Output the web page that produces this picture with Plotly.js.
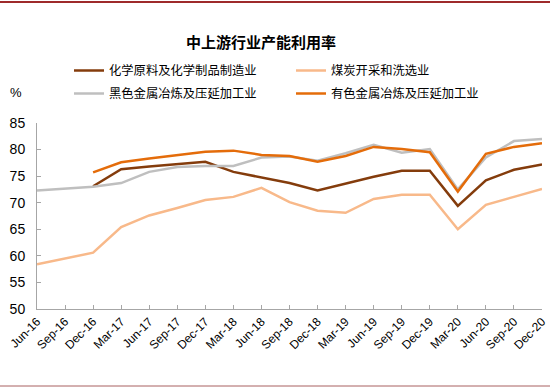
<!DOCTYPE html>
<html>
<head>
<meta charset="utf-8">
<script src="https://cdn.plot.ly/plotly-3.0.1.min.js"></script>
<style>html,body{margin:0;padding:0;background:#fff;}#chart{width:550px;height:387px;}</style>
</head>
<body>
<div id="chart"></div>
<script>
const categories = ["Jun-16","Sep-16","Dec-16","Mar-17","Jun-17","Sep-17","Dec-17","Mar-18","Jun-18","Sep-18","Dec-18","Mar-19","Jun-19","Sep-19","Dec-19","Mar-20","Jun-20","Sep-20","Dec-20"];
const chemical = [null,null,73.1,76.3,76.8,77.2,77.7,75.8,74.7,73.7,72.3,73.6,74.9,76.0,76.0,69.4,74.2,76.2,77.2];
const coal = [58.4,null,60.6,65.4,67.6,69.0,70.5,71.1,72.8,70.1,68.5,68.1,70.7,71.5,71.5,65.0,69.6,71.1,72.6];
const ferrous = [72.3,null,73.0,73.7,75.8,76.7,76.9,76.9,78.5,78.7,77.9,79.3,80.9,79.4,80.1,72.5,78.5,81.6,82.0];
const nonferrous = [null,null,75.7,77.6,78.3,79.0,79.6,79.8,79.0,78.8,77.7,78.8,80.5,80.1,79.5,72.1,79.2,80.5,81.2];
const names = ["化学原料及化学制品制造业","煤炭开采和洗选业","黑色金属冶炼及压延加工业","有色金属冶炼及压延加工业"];
const colors = ["#843C0C","#F8B98A","#BFBFBF","#E46C0A"];
const series = [chemical, coal, ferrous, nonferrous];
const legendIds = ["legend","legend","legend2","legend2"];

const traces = series.map((s, i) => ({
  type: 'scatter', mode: 'lines', x: categories, y: s, name: names[i],
  legend: legendIds[i],
  connectgaps: true, line: {color: colors[i], width: 2.5}
}));

const L = 37, R = 542, T = 123, B = 309;
const px = v => (v - L) / (R - L);
const py = v => (B - v) / (B - T);

const legendBase = {orientation: 'h', x: px(69), xanchor: 'left', yanchor: 'top',
  entrywidth: 177, entrywidthmode: 'pixels', traceorder: 'normal',
  font: {family: 'Noto Sans CJK SC', size: 12.3, color: '#000'}, bgcolor: 'rgba(0,0,0,0)'};

const layout = {
  width: 550, height: 387,
  margin: {l: L, r: 550 - R, t: T, b: 387 - B},
  paper_bgcolor: '#fff', plot_bgcolor: '#fff',
  font: {family: 'Liberation Sans, Arial, sans-serif', color: '#000'},
  title: {text: '中上游行业产能利用率', x: 261/550, xanchor: 'center', xref: 'container',
          y: 1 - 43/387, yref: 'container', yanchor: 'middle',
          font: {family: 'Noto Sans CJK SC', size: 15, weight: 'bold', color: '#000'}},
  showlegend: true,
  legend: Object.assign({}, legendBase, {y: py(56)}),
  legend2: Object.assign({}, legendBase, {y: py(79)}),
  xaxis: {type: 'category', range: [0, 18], showgrid: false, zeroline: false,
          showline: true, linecolor: '#A6A6A6', linewidth: 1,
          ticks: 'inside', ticklen: 4, tickcolor: '#A6A6A6', dtick: 1,
          tickangle: -45, tickfont: {size: 12, color: '#000'}, fixedrange: true},
  yaxis: {range: [50, 85], dtick: 5, showgrid: false, zeroline: false,
          showline: true, linecolor: '#A6A6A6', linewidth: 1,
          ticks: 'inside', ticklen: 4, tickcolor: '#A6A6A6', ticklabelstandoff: 8,
          tickfont: {size: 14, color: '#000'}, fixedrange: true},
  annotations: [{text: '%', xref: 'paper', yref: 'paper', x: px(8), y: py(93),
                 xanchor: 'left', yanchor: 'middle', showarrow: false,
                 font: {size: 13, color: '#000'}}],
  shapes: [
    {type: 'line', xref: 'paper', yref: 'paper', x0: px(0), x1: px(550), y0: py(2), y1: py(2),
     line: {color: '#9E2A2B', width: 2}},
    {type: 'line', xref: 'paper', yref: 'paper', x0: px(0), x1: px(550), y0: py(386), y1: py(386),
     line: {color: '#A86060', width: 1}}
  ]
};

Plotly.newPlot('chart', traces, layout, {displayModeBar: false, staticPlot: true});
</script>
</body>
</html>
